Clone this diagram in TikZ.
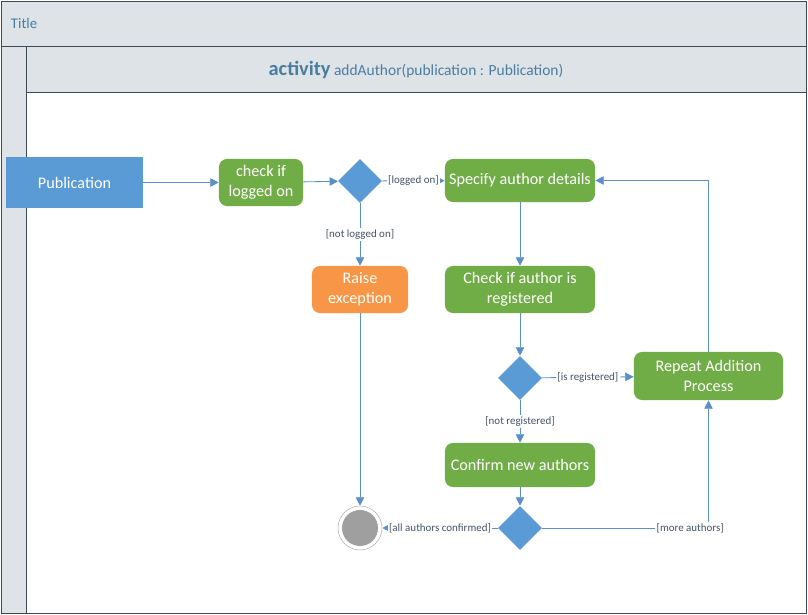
\documentclass[tikz,border=0pt]{standalone}
\usepackage{fontspec}
\setmainfont{Carlito}
\usepackage{tikz}
\usetikzlibrary{shapes.geometric, arrows.meta, positioning, calc}

\definecolor{frameline}{HTML}{3B4A55}
\definecolor{framefill}{HTML}{DEE3E8}
\definecolor{titletext}{HTML}{4A7E9E}
\definecolor{objblue}{HTML}{5B9BD5}
\definecolor{actgreen}{HTML}{70AD47}
\definecolor{excorange}{HTML}{F79646}
\definecolor{flowblue}{HTML}{5B8FC9}
\definecolor{guardtext}{HTML}{44546A}

\begin{document}
\begin{tikzpicture}[
    x=0.025cm, y=-0.025cm,
    action/.style={rounded corners=0.2cm, minimum width=#1, fill=actgreen, text=white, font=\fontsize{11.5}{14}\selectfont, align=center, inner sep=2pt},
    object/.style={minimum width=3.425cm, minimum height=1.275cm, fill=objblue, text=white, font=\fontsize{11.5}{14}\selectfont},
    decision/.style={diamond, fill=objblue, minimum width=1.1cm, minimum height=1.1cm, inner sep=0pt},
    flow/.style={-{Triangle[length=6pt, width=6pt]}, flowblue, line width=0.6pt},
    guard/.style={fill=white, text=guardtext, font=\fontsize{7.8}{9}\selectfont, inner sep=1pt},
]
\useasboundingbox (0,0) rectangle (808,615);
% Frame
\fill[framefill] (1,1) rectangle (806,613);
\fill[white] (26,92) rectangle (806,613);
\draw[frameline, line width=0.6pt] (1,1) rectangle (806,613);
\draw[frameline, line width=0.6pt] (1,46) -- (806,46);
\draw[frameline, line width=0.6pt] (26,46) -- (26,613);
\draw[frameline, line width=0.6pt] (26,92) -- (806,92);
\node[anchor=west, text=titletext, font=\fontsize{10.5}{12}\selectfont] (title) at (6,23) {Title};
\node[text=titletext, font=\fontsize{11}{13}\selectfont] (header) at (416,70) {{\fontsize{14.5}{16}\selectfont\bfseries activity} addAuthor(publication : Publication)};
% Nodes
\node[object] (pub) at (74.5,182.5) {Publication};
\node[action=2.1cm, minimum height=1.175cm] (logged) at (261,182.5) {check if\\logged on};
\node[decision] (d1) at (360,181) {};
\node[action=3.75cm, minimum height=1.075cm] (spec) at (520,180.5) {Specify author details};
\node[action=2.4cm, minimum height=1.175cm, fill=excorange] (raise) at (360,289.5) {Raise\\exception};
\node[action=3.75cm, minimum height=1.175cm] (checkreg) at (520,289.5) {Check if author is\\registered};
\node[decision] (d2) at (520,378) {};
\node[action=3.725cm, minimum height=1.2cm] (repeat) at (708.5,376) {Repeat Addition\\Process};
\node[action=3.75cm, minimum height=1.1cm] (confirm) at (520,465) {Confirm new authors};
\node[decision] (d3) at (520,528) {};
\node[circle, draw=gray!60, minimum size=1.1cm,
      path picture={\fill[gray!75] (path picture bounding box.center) circle (0.45cm);}] (final) at (360,528) {};
% Flows
\draw[flow] (pub) -- (logged);
\draw[flow] (logged) -- (d1);
\draw[flow] (d1) -- node[guard] {[logged on]} (spec);
\draw[flow] (d1) -- node[guard] {[not logged on]} (raise);
\draw[flow] (raise) -- (final);
\draw[flow] (spec) -- (checkreg);
\draw[flow] (checkreg) -- (d2);
\draw[flow] (d2) -- node[guard] {[is registered]} (repeat);
\draw[flow] (d2) -- node[guard] {[not registered]} (confirm);
\draw[flow] (confirm) -- (d3);
\draw[flow] (d3) -- node[guard] {[all authors confirmed]} (final);
\draw[flow] (d3) -| node[guard, pos=0.445] {[more authors]} (repeat);
\draw[flow] (repeat) |- (spec);
\end{tikzpicture}
\end{document}
